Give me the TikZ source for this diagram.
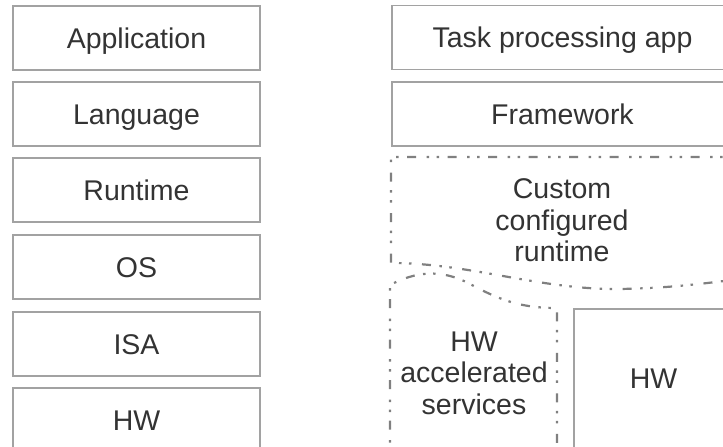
\documentclass[tikz,border=0pt]{standalone}
\usepackage{fontspec}
\setmainfont{Liberation Sans}
\definecolor{boxline}{HTML}{A2A2A2}
\definecolor{dashline}{HTML}{808080}
\definecolor{labeltext}{HTML}{333333}
\begin{document}
\begin{tikzpicture}[x=1pt, y=-1pt,
  labelfont/.style={font=\fontsize{28.5}{31.5}\selectfont, text=labeltext},
  layer/.style={labelfont, draw=boxline, line width=1.5pt, inner sep=0pt,
    minimum height=64pt, text height=20.4pt, text depth=0pt},
  leftlayer/.style={layer, minimum width=247pt},
  rightlayer/.style={layer, minimum width=341pt},
  multiline/.style={labelfont, align=center, inner sep=0pt},
  dashdotdot/.style={draw=dashline, line width=2.2pt,
    dash pattern=on 9pt off 8.5pt on 2.5pt off 7.5pt on 2.5pt off 10.5pt}
]
\useasboundingbox (0,0) rectangle (723,447);
\clip (0,0) rectangle (723,447);

% conventional stack
\node[leftlayer] (app)  at (136.5, 38)  {Application};
\node[leftlayer] (lang) at (136.5, 114) {Language};
\node[leftlayer] (rt)   at (136.5, 190) {Runtime};
\node[leftlayer] (os)   at (136.5, 267) {OS};
\node[leftlayer] (isa)  at (136.5, 344) {ISA};
\node[leftlayer] (hw)   at (136.5, 420) {HW};

% specialised stack
\node[rightlayer] (task) at (562.5, 37.5) {Task processing app};
\node[rightlayer] (fw)   at (562.5, 114)  {Framework};

% custom runtime with a wavy lower edge
\draw[dashdotdot] (740,157) -- (391,157) -- (391,263)
  .. controls (470,263) and (540,290) .. (620,289)
  .. controls (670,288) and (700,284) .. (740,279);
\node[multiline] (custom) at (562, 220.3)
  {\rule{0pt}{20.4pt}Custom\\configured\\runtime};

% accelerated services with a wavy upper edge
\draw[dashdotdot] (390,470) -- (390,285)
  .. controls (415,272) and (440,268) .. (470,284)
  .. controls (500,300) and (520,308) .. (557,308) -- (557,470);
\node[multiline] (accel) at (474, 372.8)
  {\rule{0pt}{20.4pt}HW\\accelerated\\services};

% plain hardware block
\node[draw=boxline, line width=1.5pt, minimum width=159pt, minimum height=161pt,
  inner sep=0pt] (hwbox) at (653.5, 389.5) {};
\node[labelfont, inner sep=0pt, text height=20.4pt, text depth=0pt]
  (hwlabel) at (653.5, 378) {HW};
\end{tikzpicture}
\end{document}
